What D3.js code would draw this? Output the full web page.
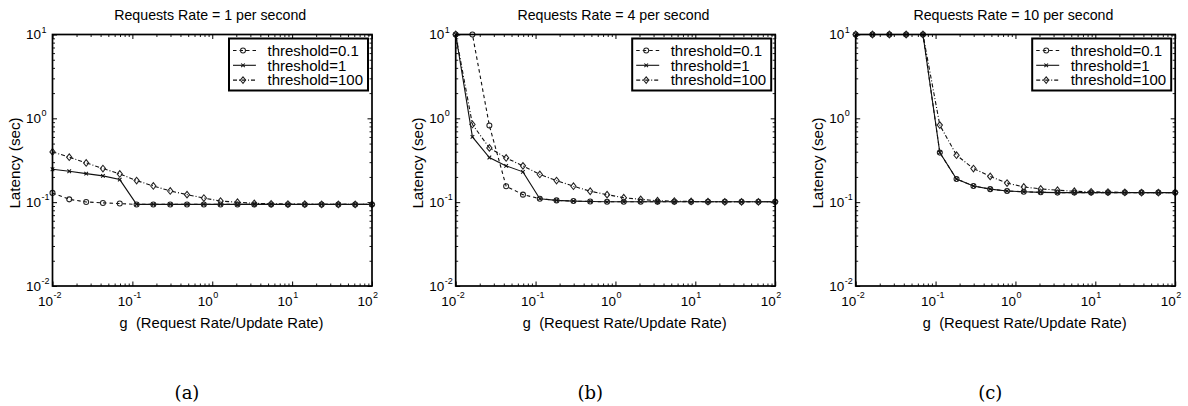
<!DOCTYPE html>
<html><head><meta charset="utf-8">
<script src="https://cdn.jsdelivr.net/npm/d3@7"></script>
<style>body{margin:0;background:#fff} svg{display:block}</style>
</head><body>
<svg id="fig" width="1188" height="406"></svg>
<script>
// ---- data ----
const gValues = [0.01, 0.0162, 0.0264, 0.0428, 0.0695, 0.113, 0.183, 0.298, 0.483, 0.785,
                 1.27, 2.07, 3.36, 5.46, 8.86, 14.4, 23.4, 37.9, 61.6, 100];
const seriesNames = ["threshold=0.1", "threshold=1", "threshold=100"];
const panelTitles = ["Requests Rate = 1 per second", "Requests Rate = 4 per second", "Requests Rate = 10 per second"];
const panelCaptions = ["(a)", "(b)", "(c)"];
const xTickExps = [-2, -1, 0, 1, 2];
const yTickExps = [-2, -1, 0, 1];

const rate1_t01  = [0.129, 0.108, 0.1006, 0.098, 0.0962, 0.094, 0.094, 0.094, 0.094, 0.094, 0.094, 0.094, 0.094, 0.094, 0.094, 0.094, 0.094, 0.094, 0.094, 0.094];
const rate1_t1   = [0.247, 0.234, 0.219, 0.206, 0.186, 0.094, 0.094, 0.094, 0.094, 0.094, 0.094, 0.094, 0.094, 0.094, 0.094, 0.094, 0.094, 0.094, 0.094, 0.094];
const rate1_t100 = [0.398, 0.344, 0.294, 0.252, 0.217, 0.181, 0.156, 0.136, 0.123, 0.112, 0.103, 0.0998, 0.097, 0.0956, 0.095, 0.0945, 0.094, 0.094, 0.094, 0.094];

const rate4_t01  = [10, 10, 0.82, 0.155, 0.123, 0.110, 0.105, 0.103, 0.102, 0.101, 0.101, 0.101, 0.101, 0.101, 0.101, 0.101, 0.101, 0.101, 0.101, 0.101];
const rate4_t1   = [10, 0.60, 0.341, 0.271, 0.230, 0.110, 0.105, 0.103, 0.102, 0.101, 0.101, 0.101, 0.101, 0.101, 0.101, 0.101, 0.101, 0.101, 0.101, 0.101];
const rate4_t100 = [10, 0.845, 0.444, 0.337, 0.271, 0.214, 0.181, 0.155, 0.135, 0.123, 0.113, 0.108, 0.104, 0.103, 0.102, 0.1015, 0.101, 0.101, 0.101, 0.101];

const rate10_t01  = [10, 10, 10, 10, 10, 0.39, 0.189, 0.156, 0.143, 0.136, 0.133, 0.131, 0.130, 0.130, 0.130, 0.130, 0.130, 0.130, 0.130, 0.130];
const rate10_t1   = [10, 10, 10, 10, 10, 0.39, 0.189, 0.156, 0.143, 0.136, 0.133, 0.131, 0.130, 0.130, 0.130, 0.130, 0.130, 0.130, 0.130, 0.130];
const rate10_t100 = [10, 10, 10, 10, 10, 0.83, 0.363, 0.252, 0.203, 0.169, 0.152, 0.144, 0.139, 0.135, 0.133, 0.132, 0.131, 0.130, 0.130, 0.130];

const panelSeries = [
  [rate1_t01, rate1_t1, rate1_t100],
  [rate4_t01, rate4_t1, rate4_t100],
  [rate10_t01, rate10_t1, rate10_t100]
];

// ---- layout / style ----
const SANS = "'Liberation Sans', Arial, Helvetica, sans-serif";
const panelLefts = [52.5, 455.7, 855.7];
const plotW = 319.5, plotTop = 34.5, plotBottom = 286;
const lineColor = "#111";
const dashes = ["3.5,3", null, "4,2,1,2"];
const markers = ["circle", "x", "diamond"];

const svg = d3.select("#fig");

function drawMarker(g, type, cx, cy) {
  if (type === "circle") {
    g.append("circle").attr("cx", cx).attr("cy", cy).attr("r", 2.5)
      .attr("fill", "none").attr("stroke", "#222").attr("stroke-width", 1.05);
  } else if (type === "diamond") {
    const s = 3.3;
    g.append("path").attr("d", `M${cx},${cy - s}L${cx + s * 0.8},${cy}L${cx},${cy + s}L${cx - s * 0.8},${cy}Z`)
      .attr("fill", "none").attr("stroke", "#222").attr("stroke-width", 1.05);
  } else {
    const s = 1.8;
    g.append("path").attr("d", `M${cx - s},${cy - s}L${cx + s},${cy + s}M${cx - s},${cy + s}L${cx + s},${cy - s}`)
      .attr("stroke", "#111").attr("stroke-width", 1.05);
  }
}

panelSeries.forEach((series, pi) => {
  const left = panelLefts[pi];
  const x = d3.scaleLog().domain([1e-2, 1e2]).range([left, left + plotW]);
  const y = d3.scaleLog().domain([1e-2, 1e1]).range([plotBottom, plotTop]);
  const g = svg.append("g");

  // minor & major ticks
  const minorX = [], minorY = [];
  for (let e = -2; e < 2; e++) for (let m = 2; m <= 9; m++) minorX.push(m * Math.pow(10, e));
  for (let e = -2; e < 1; e++) for (let m = 2; m <= 9; m++) minorY.push(m * Math.pow(10, e));
  const majorX = xTickExps.map(e => Math.pow(10, e));
  const majorY = yTickExps.map(e => Math.pow(10, e));

  const axes = [
    [d3.axisBottom(x), `translate(0,${plotBottom})`, majorX, minorX],
    [d3.axisTop(x), `translate(0,${plotTop})`, majorX, minorX],
    [d3.axisLeft(y), `translate(${left},0)`, majorY, minorY],
    [d3.axisRight(y), `translate(${left + plotW},0)`, majorY, minorY]
  ];
  axes.forEach(([ax, tr, maj, min]) => {
    const gMaj = g.append("g").attr("transform", tr)
      .call(ax.tickValues(maj).tickSize(-4.5).tickSizeOuter(0).tickFormat(""));
    gMaj.select(".domain").remove();
    gMaj.selectAll("line").attr("stroke", "#000").attr("stroke-width", 1);
    const gMin = g.append("g").attr("transform", tr)
      .call(ax.tickValues(min).tickSize(-2.5).tickSizeOuter(0).tickFormat(""));
    gMin.select(".domain").remove();
    gMin.selectAll("line").attr("stroke", "#000").attr("stroke-width", 0.9);
  });

  // tick labels with superscripts
  xTickExps.forEach(e => {
    const tx = x(Math.pow(10, e));
    g.append("text").attr("font-family", SANS).attr("font-size", 13.5)
      .attr("x", tx + 0.5).attr("y", 305.5).attr("text-anchor", "end").text("10");
    g.append("text").attr("font-family", SANS).attr("font-size", 9)
      .attr("x", tx + 1).attr("y", 298).text(String(e));
  });
  yTickExps.forEach(e => {
    const ty = y(Math.pow(10, e));
    g.append("text").attr("font-family", SANS).attr("font-size", 13.5)
      .attr("x", left - 11.5).attr("y", ty + 4.8).attr("text-anchor", "end").text("10");
    g.append("text").attr("font-family", SANS).attr("font-size", 9)
      .attr("x", left - 11).attr("y", ty - 2).text(String(e));
  });

  // series lines and markers
  const line = d3.line().x((d, i) => x(gValues[i])).y(d => y(d));
  series.forEach((vals, si) => {
    g.append("path").datum(vals).attr("d", line)
      .attr("fill", "none").attr("stroke", lineColor).attr("stroke-width", 1.1)
      .attr("stroke-dasharray", dashes[si]);
  });
  series.forEach((vals, si) => {
    vals.forEach((v, i) => drawMarker(g, markers[si], x(gValues[i]), y(v)));
  });

  // axes box
  g.append("rect").attr("x", left).attr("y", plotTop).attr("width", plotW)
    .attr("height", plotBottom - plotTop).attr("fill", "none")
    .attr("stroke", "#000").attr("stroke-width", 1.7);

  // legend
  const lw = 139, lh = 52;
  const lx = left + plotW - 4 - lw, ly = plotTop + 4;
  g.append("rect").attr("x", lx).attr("y", ly).attr("width", lw).attr("height", lh)
    .attr("fill", "#fff").attr("stroke", "#000").attr("stroke-width", 2);
  seriesNames.forEach((name, si) => {
    const ry = ly + 12 + si * 14.8;
    g.append("line").attr("x1", lx + 4).attr("x2", lx + 27).attr("y1", ry).attr("y2", ry)
      .attr("stroke", lineColor).attr("stroke-width", 1.1).attr("stroke-dasharray", dashes[si]);
    drawMarker(g, markers[si], lx + 14, ry);
    g.append("text").attr("x", lx + 38.5).attr("y", ry + 5.2).attr("font-family", SANS)
      .attr("font-size", 15).text(name);
  });

  // title
  g.append("text").attr("x", left + plotW / 2 - 2).attr("y", 20).attr("text-anchor", "middle")
    .attr("font-family", SANS).attr("font-size", 14.2).text(panelTitles[pi]);

  // x label
  const xl = g.append("text").attr("x", left + plotW / 2 + 9).attr("y", 328)
    .attr("text-anchor", "middle").attr("font-size", 14.8).attr("font-family", SANS);
  xl.append("tspan").attr("font-family", "'Liberation Mono', 'DejaVu Sans Mono', monospace").text("g");
  xl.append("tspan").attr("dx", 8).text("(Request Rate/Update Rate)");

  // y label
  g.append("text").attr("transform", `translate(${left - 32.5},163) rotate(-90)`)
    .attr("text-anchor", "middle").attr("font-family", SANS).attr("font-size", 15.2)
    .text("Latency (sec)");

  // caption
  g.append("text").attr("x", left + 134.5).attr("y", 399).attr("text-anchor", "middle")
    .attr("font-family", "'DejaVu Serif', 'Liberation Serif', serif").attr("font-size", 18)
    .text(panelCaptions[pi]);
});
</script>
</body></html>
